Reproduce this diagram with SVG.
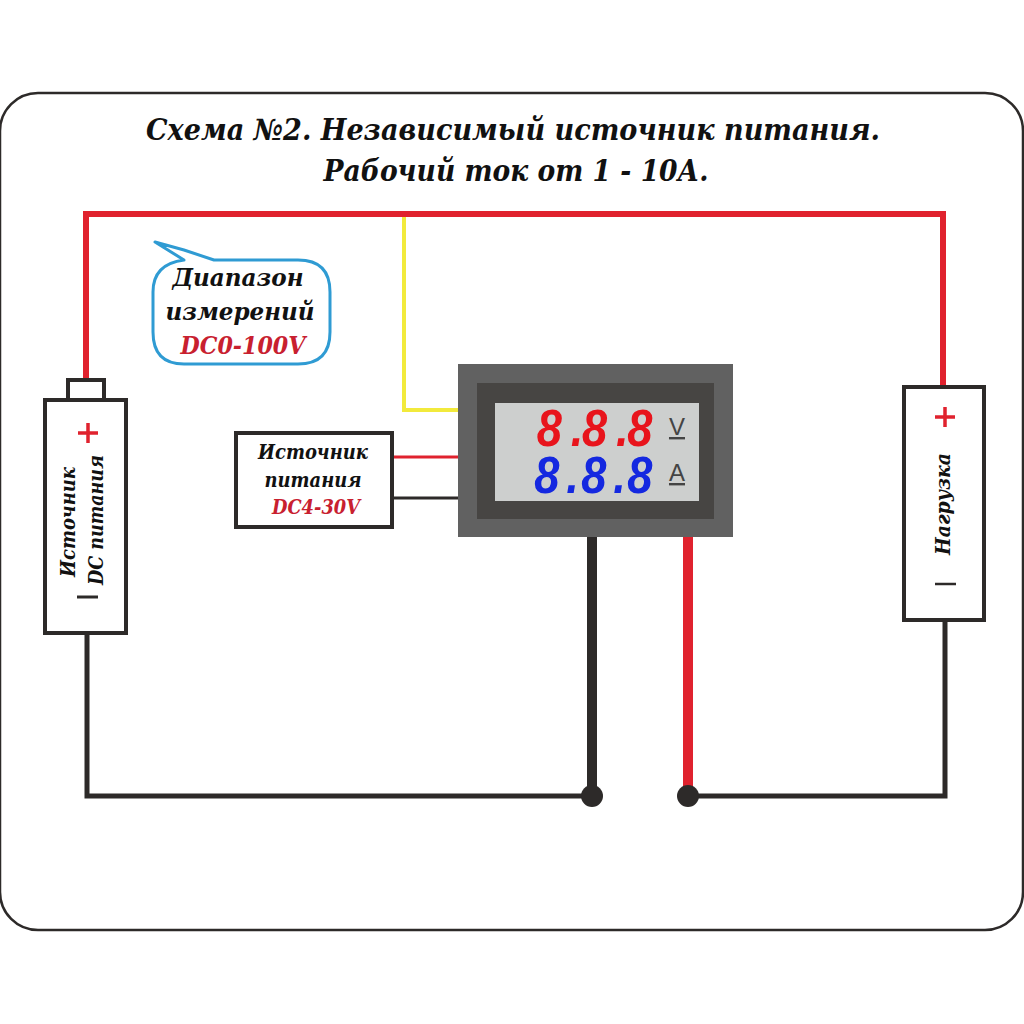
<svg xmlns="http://www.w3.org/2000/svg" width="1024" height="1024" viewBox="0 0 1024 1024">
<style>
.t{font-family:"DejaVu Serif","Liberation Serif",serif;font-weight:bold;font-style:italic;fill:#111;text-anchor:middle}
.r{fill:#c8202f}
.box{fill:#fff;stroke:#2d2a29}
.w{fill:none}
.red{stroke:#e0222e}
.blk{stroke:#2d2a29}
.seg{font-family:"Liberation Sans",sans-serif;font-weight:bold;font-style:italic;font-size:52px}
.lab{font-family:"Liberation Sans",sans-serif;font-size:24px;fill:#444;text-anchor:middle;text-decoration:underline}
</style>
<rect width="1024" height="1024" fill="#fff"/>
<rect id="frame" x="0" y="93" width="1023" height="837" rx="38" fill="#fff" stroke="#2d2a29" stroke-width="2.5"/>
<g id="title">
<text class="t" x="513" y="140" font-size="29" textLength="734" lengthAdjust="spacingAndGlyphs">Схема №2. Независимый источник питания.</text>
<text class="t" x="516" y="181" font-size="29" textLength="385" lengthAdjust="spacingAndGlyphs">Рабочий ток от 1 - 10А.</text>
</g>
<g id="connectors">
<path class="w" stroke="#f2ea3c" stroke-width="4" d="M404 216V410H460"/>
<path class="w red" stroke-width="6" d="M86 380V214H943V388"/>
<path class="w red" stroke-width="3" d="M391 457H460"/>
<path class="w blk" stroke-width="3" d="M391 498H460"/>
<path class="w blk" stroke-width="5" d="M87 632V796H592"/>
<path class="w blk" stroke-width="10" d="M592 536V796"/>
<path class="w red" stroke-width="10" d="M688 536V796"/>
<path class="w blk" stroke-width="5" d="M688 796H945V620"/>
<circle cx="592" cy="796" r="11" fill="#2d2a29"/>
<circle cx="688" cy="796" r="11" fill="#2d2a29"/>
</g>
<g id="callout">
<path d="M155 242L184 250L214 260H298Q330 260 330 292V332Q330 364 298 364H184Q153 364 153 332V292Q153 264 184 260Z" fill="#fff" stroke="#2f9bd3" stroke-width="3" stroke-linejoin="round"/>
<text class="t" x="238" y="286" font-size="24" textLength="131" lengthAdjust="spacingAndGlyphs">Диапазон</text>
<text class="t" x="240" y="320" font-size="24" textLength="149" lengthAdjust="spacingAndGlyphs">измерений</text>
<text class="t r" x="243" y="354" font-size="24" textLength="125" lengthAdjust="spacingAndGlyphs">DC0-100V</text>
</g>
<g id="source">
<rect class="box" x="68" y="380" width="36" height="20" stroke-width="4"/>
<rect class="box" x="45" y="400" width="81" height="233" stroke-width="4"/>
<path d="M78 433H98M88 423V443" stroke="#e0222e" stroke-width="3.5" fill="none"/>
<path d="M77 597H98" stroke="#2d2a29" stroke-width="3" fill="none"/>
<text class="t" font-size="20" textLength="110" lengthAdjust="spacingAndGlyphs" transform="translate(75 522) rotate(-90)">Источник</text>
<text class="t" font-size="20" textLength="130" lengthAdjust="spacingAndGlyphs" transform="translate(103 520) rotate(-90)">DC питания</text>
</g>
<g id="psu">
<rect class="box" x="236" y="433" width="156" height="94" stroke-width="4"/>
<text class="t" x="313" y="459" font-size="20" textLength="110" lengthAdjust="spacingAndGlyphs">Источник</text>
<text class="t" x="313" y="487" font-size="20" textLength="97" lengthAdjust="spacingAndGlyphs">питания</text>
<text class="t r" x="316" y="514" font-size="20" textLength="88" lengthAdjust="spacingAndGlyphs">DC4-30V</text>
</g>
<g id="meter">
<rect x="458" y="364" width="275" height="173" fill="#616161"/>
<rect x="477" y="383" width="237" height="136" fill="#474543"/>
<rect x="495" y="403" width="204" height="98" fill="#cdcfce"/>
<text class="seg" fill="#e8141c" transform="scale(.87 1)" x="617 656 669 708 721" y="446">8.8.8</text>
<text class="seg" fill="#1428e0" transform="scale(.87 1)" x="614 651 668 705 721" y="493">8.8.8</text>
<text class="lab" x="677" y="435">V</text>
<text class="lab" x="677" y="481">A</text>
</g>
<g id="load">
<rect class="box" x="904" y="387" width="80" height="233" stroke-width="4"/>
<path d="M935 417H955M945 407V427" stroke="#e0222e" stroke-width="3.5" fill="none"/>
<path d="M935 584H956" stroke="#2d2a29" stroke-width="2.5" fill="none"/>
<text class="t" font-size="20" textLength="102" lengthAdjust="spacingAndGlyphs" transform="translate(950 504) rotate(-90)">Нагрузка</text>
</g>
</svg>
